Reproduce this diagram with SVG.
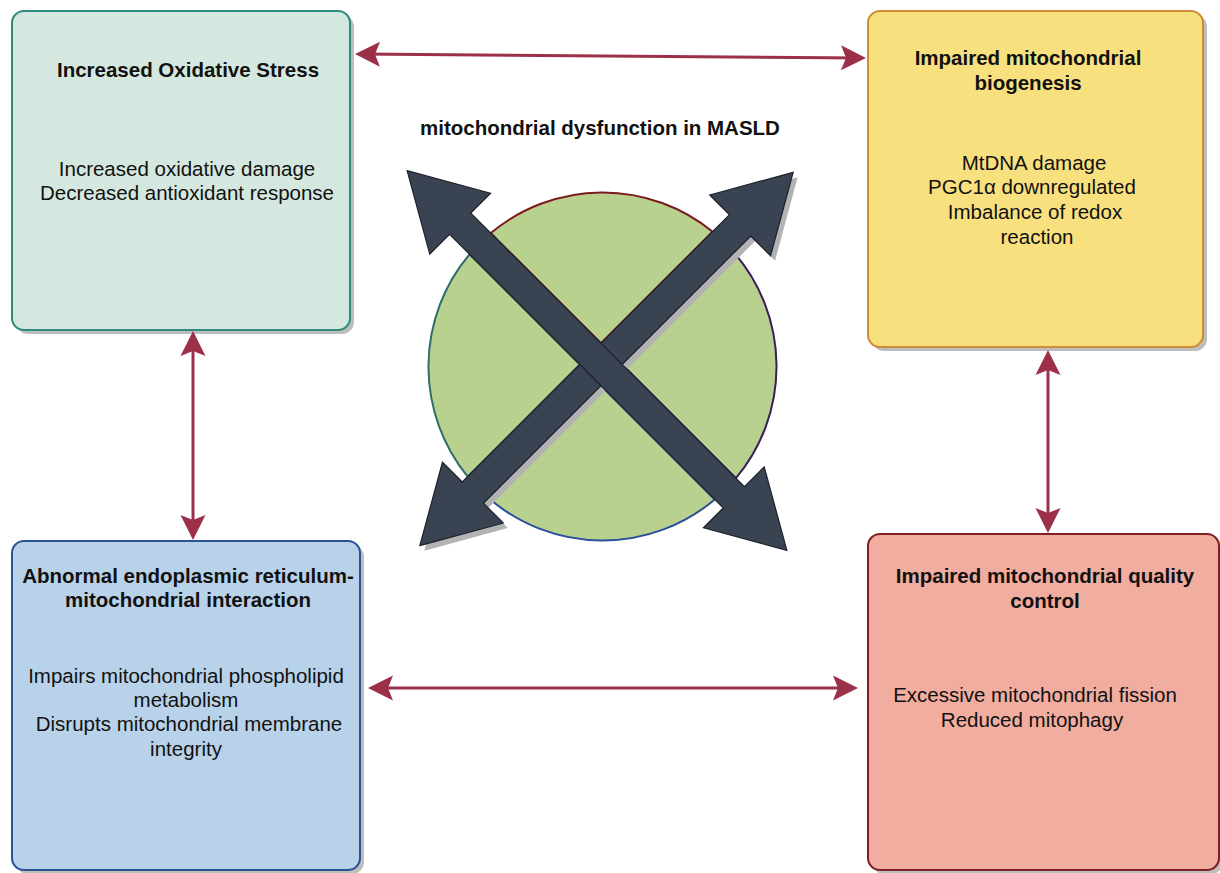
<svg xmlns="http://www.w3.org/2000/svg" width="1220" height="873" viewBox="0 0 1220 873">
<defs>
<style>
.shadow{fill:#bdbdbd}
.box{stroke-width:2}
.t{font-family:"Liberation Sans",Arial,sans-serif;font-size:20.5px;fill:#111;text-anchor:middle}
.b{font-weight:bold}
.conn{stroke:#9b3048;stroke-width:3;fill:none;marker-start:url(#ah);marker-end:url(#ah)}
.slice{fill:#b9d18f;stroke-width:2}
.bigarrow{fill:#3a4352;stroke:#1c222c;stroke-width:1.2}
</style>
<marker id="ah" markerUnits="userSpaceOnUse" orient="auto-start-reverse" refX="20" refY="0" markerWidth="30" markerHeight="30" overflow="visible">
<path d="M0,-12.5 L25,0 L0,12.5 L5,0 Z" fill="#9b3048"/>
</marker>
</defs>
<rect width="1220" height="873" fill="#ffffff"/>

<g id="node-oxidative">
<rect class="shadow" x="16" y="15" width="338" height="319" rx="12"/>
<rect class="box" x="12" y="11" width="338" height="319" rx="12" fill="#d5e8df" stroke="#2f8a7c"/>
<text class="t b" x="188" y="77">Increased Oxidative Stress</text>
<text class="t" x="187" y="176">Increased oxidative damage</text>
<text class="t" x="187" y="200">Decreased antioxidant response</text>
</g>

<g id="node-biogenesis">
<rect class="shadow" x="872" y="15" width="335" height="336" rx="12"/>
<rect class="box" x="868" y="11" width="335" height="336" rx="12" fill="#f9e07f" stroke="#d08b36"/>
<text class="t b" x="1028" y="65">Impaired mitochondrial</text>
<text class="t b" x="1028" y="90">biogenesis</text>
<text class="t" x="1034" y="170">MtDNA damage</text>
<text class="t" x="1032" y="194">PGC1α downregulated</text>
<text class="t" x="1035" y="219">Imbalance of redox</text>
<text class="t" x="1037" y="244">reaction</text>
</g>

<g id="node-er">
<rect class="shadow" x="16" y="545" width="348" height="329" rx="12"/>
<rect class="box" x="12" y="541" width="348" height="329" rx="12" fill="#b8d2ea" stroke="#2b5295"/>
<text class="t b" x="188" y="583">Abnormal endoplasmic reticulum-</text>
<text class="t b" x="188" y="607">mitochondrial interaction</text>
<text class="t" x="186" y="683">Impairs mitochondrial phospholipid</text>
<text class="t" x="186" y="707">metabolism</text>
<text class="t" x="189" y="731">Disrupts mitochondrial membrane</text>
<text class="t" x="186" y="756">integrity</text>
</g>

<g id="node-quality">
<rect class="shadow" x="872" y="538" width="351" height="336" rx="12"/>
<rect class="box" x="868" y="534" width="351" height="336" rx="12" fill="#f1ada0" stroke="#7f1f23"/>
<text class="t b" x="1045" y="583">Impaired mitochondrial quality</text>
<text class="t b" x="1045" y="608">control</text>
<text class="t" x="1035" y="702">Excessive mitochondrial fission</text>
<text class="t" x="1032" y="727">Reduced mitophagy</text>
</g>

<g id="node-center">
<text class="t b" x="600" y="135">mitochondrial dysfunction in MASLD</text>
<path class="slice" stroke="#7a1b1e" d="M601,343.3 L490.8,233.1 A174,174 0 0 1 712.6,231.7 Z"/>
<path class="slice" stroke="#3b1f5a" d="M622.2,364.5 L734.1,252.6 A174,174 0 0 1 735.9,478.2 Z"/>
<path class="slice" stroke="#2c4f9a" d="M601,385.7 L714.75,499.45 A174,174 0 0 1 488.6,498.1 Z"/>
<path class="slice" stroke="#2e6f6a" d="M579.8,364.5 L467.7,476.6 A174,174 0 0 1 469.55,254.25 Z"/>
<g transform="translate(611,364) rotate(-45)">
<polygon fill="#b3b3b3" points="264,0 189,-43 189,-15 -189,-15 -189,-43 -264,0 -189,43 -189,15 189,15 189,43"/>
</g>
<g transform="translate(606.5,359) rotate(-45)">
<polygon class="bigarrow" points="264,0 189,-43 189,-15 -189,-15 -189,-43 -264,0 -189,43 -189,15 189,15 189,43"/>
</g>
<g transform="translate(597,360.5) rotate(45)">
<polygon class="bigarrow" points="268.5,0 193.5,-43 193.5,-15 -193.5,-15 -193.5,-43 -268.5,0 -193.5,43 -193.5,15 193.5,15 193.5,43"/>
</g>
</g>

<g id="connectors">
<path class="conn" d="M360,54.04 L861,57.96"/>
<path class="conn" d="M193,336 L193,535"/>
<path class="conn" d="M1048,355 L1048,528"/>
<path class="conn" d="M373,688 L853,688"/>
</g>
</svg>
